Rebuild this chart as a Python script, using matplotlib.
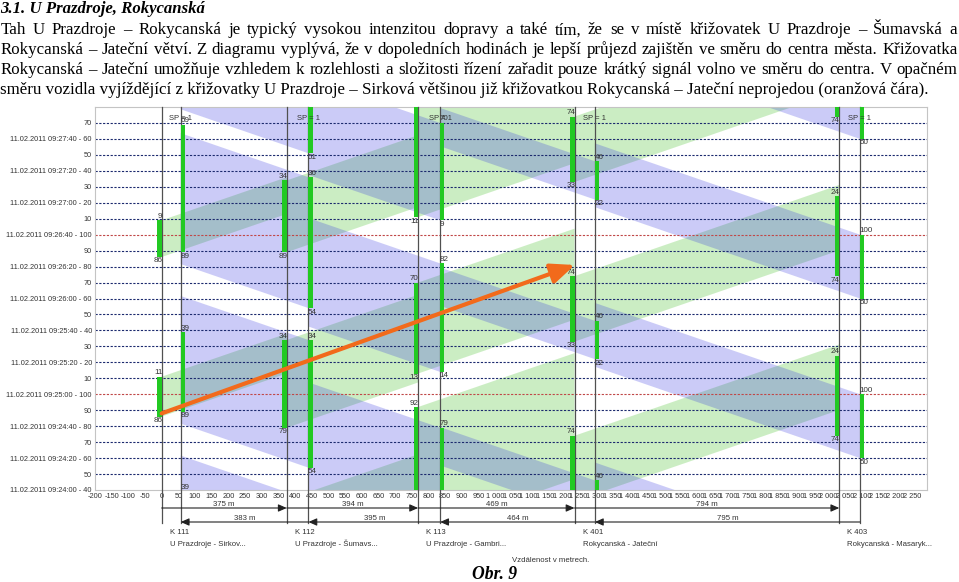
import matplotlib
matplotlib.use('Agg')
import matplotlib.pyplot as plt
from matplotlib.patches import Polygon, Rectangle
import matplotlib.transforms as mtransforms
from datetime import datetime, timedelta

plt.rcParams['font.family'] = ['Liberation Sans', 'DejaVu Sans']

W, H = 959, 582

# ------------------------------------------------------------------ data
title = "3.1. U Prazdroje, Rokycanská"
paragraph = [
    "Tah U Prazdroje – Rokycanská je typický vysokou intenzitou dopravy a také tím, že se v místě křižovatek U Prazdroje – Šumavská a",
    "Rokycanská – Jateční větví. Z diagramu vyplývá, že v dopoledních hodinách je lepší průjezd zajištěn ve směru do centra města. Křižovatka",
    "Rokycanská – Jateční umožňuje vzhledem k rozlehlosti a složitosti řízení zařadit pouze krátký signál volno ve směru do centra. V opačném",
    "směru vozidla vyjíždějící z křižovatky U Prazdroje – Sirková většinou již křižovatkou Rokycanská – Jateční neprojedou (oranžová čára).",
]
caption = "Obr. 9"
x_axis_note = "Vzdálenost v metrech."

intersections = ["K 111", "K 112", "K 113", "K 401", "K 403"]
inter_names = ["U Prazdroje - Sirkov...", "U Prazdroje - Šumavs...", "U Prazdroje - Gambri...",
               "Rokycanská - Jateční", "Rokycanská - Masaryk..."]
stop_east = [0, 375, 769, 1238, 2032]     # stop lines, direction to the right (m)
stop_west = [57, 440, 835, 1299, 2094]    # stop lines, direction to the left (m)
sp_label = "SP = 1"

speed_kmh = 50
date_str = "11.02.2011"
start_time = "09:24:00"
cycle_len = 100
cycle_offset = 40

# green intervals in seconds after 09:24:00
green_east = [
    [(46, 71), (146, 169)],
    [(-55, -6), (39, 94), (149, 194)],
    [(-27, 52), (73, 130), (171, 252)],
    [(-7, 34), (93, 134), (193, 234)],
    [(34, 84), (134, 184), (234, 284)],
]
labels_east = [
    [("86", "11"), ("86", "9")],
    [("", ""), ("79", "34"), ("89", "34")],
    [("", "92"), ("13", "70"), ("11", "")],
    [("", "74"), ("33", "74"), ("33", "74")],
    [("74", "24"), ("74", "24"), ("74", "")],
]
green_west = [
    [(-51, -1), (49, 99), (149, 229)],
    [(-86, -6), (14, 94), (114, 196), (211, 294)],
    [(-30, 39), (74, 142), (169, 230)],
    [(-18, 6), (82, 106), (182, 206)],
    [(-80, -40), (20, 60), (120, 160), (220, 260)],
]
labels_west = [
    [("", "39"), ("89", "39"), ("89", "69")],
    [("", ""), ("54", "34"), ("54", "36"), ("51", "")],
    [("", "79"), ("14", "82"), ("9", "70")],
    [("", "46"), ("22", "46"), ("22", "46")],
    [("", ""), ("50", "100"), ("50", "100"), ("50", "")],
]

# example vehicle trajectory (orange arrow): (distance m, time s)
trajectory = [(0, 48), (1239, 141)]

x_ticks = list(range(-200, 2300, 50))
y_ticks = list(range(0, 240, 10))

# ------------------------------------------------------------------ styles
BLUE = '#3333e0'
GREEN = '#33bb13'
BAND_ALPHA = 0.25
BAR = '#22c922'
GRID = '#1c2a6e'
RED = '#c04848'
LINE = '#505050'
TXT = '#333333'
ORANGE = '#f26a1b'

fig = plt.figure(figsize=(W / 100, H / 100), dpi=100)
renderer = fig.canvas.get_renderer()

def fy(py):
    return 1 - py / H

def fx(px):
    return px / W

def width_px(s, **kw):
    t = fig.text(0, 0, s, **kw)
    w = t.get_window_extent(renderer).width
    t.remove()
    return w

# ---- title
tkw = dict(family='Liberation Serif', weight='bold', style='italic')
fs_t = 12 * 205 / width_px(title, fontsize=12, **tkw)
fig.text(0, fy(13), title, fontsize=fs_t, va='baseline', ha='left', **tkw)

# ---- paragraph (justified)
pkw = dict(family='Liberation Serif')
fs_p = 12 * 922 / width_px(paragraph[-1], fontsize=12, **pkw)
baselines = [34.5, 54.3, 74.0, 93.8]
x_left, x_right = 0.5, 957.5
for li, (line, by) in enumerate(zip(paragraph, baselines)):
    words = line.split(' ')
    if li == len(paragraph) - 1:
        fig.text(fx(x_left), fy(by), line, fontsize=fs_p, va='baseline', ha='left', **pkw)
        continue
    widths = [width_px(w, fontsize=fs_p, **pkw) for w in words]
    gap = (x_right - x_left - sum(widths)) / (len(words) - 1)
    x = x_left
    for w, wd in zip(words, widths):
        fig.text(fx(x), fy(by), w, fontsize=fs_p, va='baseline', ha='left', **pkw)
        x += wd + gap

# ---- axes
ax_l, ax_r, ax_t, ax_b = 95, 927, 107, 490
ax = fig.add_axes([fx(ax_l), fy(ax_b), (ax_r - ax_l) / W, (ax_b - ax_t) / H])
ax.set_xlim(-200, 2295)
ax.set_ylim(0, 240)
for sp in ax.spines.values():
    sp.set_color('#c4c4c4')
    sp.set_linewidth(0.8)

v = speed_kmh / 3.6

# bands
for i in range(len(stop_east) - 1):
    x0, x1 = stop_east[i], stop_east[i + 1]
    dt = (x1 - x0) / v
    for t0, t1 in green_east[i]:
        ax.add_patch(Polygon([(x0, t0), (x1, t0 + dt), (x1, t1 + dt), (x0, t1)],
                             closed=True, facecolor=GREEN, alpha=BAND_ALPHA, lw=0, zorder=1))
for i in range(1, len(stop_west)):
    x0, x1 = stop_west[i], stop_west[i - 1]
    dt = (x0 - x1) / v
    for t0, t1 in green_west[i]:
        ax.add_patch(Polygon([(x0, t0), (x1, t0 + dt), (x1, t1 + dt), (x0, t1)],
                             closed=True, facecolor=BLUE, alpha=BAND_ALPHA, lw=0, zorder=1))

# horizontal grid lines
for t in range(10, 240, 10):
    c = RED if (t + cycle_offset) % cycle_len == 0 else GRID
    ax.axhline(t, color=c, lw=0.8, ls=(0, (2.0, 1.4)), zorder=2)

# ticks
t_start = datetime.strptime(start_time, "%H:%M:%S")
def ylab(t):
    c = (t + cycle_offset) % cycle_len
    c = cycle_len if c == 0 else c
    if t % 20 == 0:
        return f"{date_str} {(t_start + timedelta(seconds=t)).strftime('%H:%M:%S')} - {c}"
    return f"{c}"
ax.set_yticks(y_ticks)
ax.set_yticklabels([ylab(t) for t in y_ticks])
ax.set_xticks(x_ticks)
ax.set_xticklabels([f"{x:,}".replace(',', ' ') for x in x_ticks])
ax.tick_params(length=0, pad=2.2, labelsize=5.3, labelcolor=TXT)

trans = mtransforms.blended_transform_factory(ax.transData, ax.transAxes)
def ay(py):
    return (ax_b - py) / (ax_b - ax_t)

# stop lines (extend below the axis)
for x in stop_east + stop_west:
    ax.plot([x, x], [1, ay(523)], transform=trans, color=LINE, lw=0.9, clip_on=False, zorder=3)

# green bars + labels
bar_w = 13
lab_kw = dict(fontsize=5.8, color=TXT, zorder=6)
for i, x in enumerate(stop_east):
    for (t0, t1), (l0, l1) in zip(green_east[i], labels_east[i]):
        ax.add_patch(Rectangle((x - bar_w, t0), bar_w, t1 - t0, facecolor=BAR, lw=0, zorder=4))
        if l0:
            ax.text(x + 2, t0 - 0.3, l0, ha='right', va='top', **lab_kw)
        if l1:
            ax.text(x + 2, t1 + 0.3, l1, ha='right', va='bottom', **lab_kw)
for i, x in enumerate(stop_west):
    for (t0, t1), (l0, l1) in zip(green_west[i], labels_west[i]):
        ax.add_patch(Rectangle((x, t0), bar_w, t1 - t0, facecolor=BAR, lw=0, zorder=4))
        if l0:
            ax.text(x - 1, t0 - 0.3, l0, ha='left', va='top', **lab_kw)
        if l1:
            ax.text(x - 1, t1 + 0.3, l1, ha='left', va='bottom', **lab_kw)
    ax.text(x, 233, sp_label, ha='center', va='center', fontsize=5.5, color=TXT, zorder=6)

# orange trajectory arrow
(tx0, tt0), (tx1, tt1) = trajectory
ax.annotate('', xy=(tx1, tt1), xytext=(tx0, tt0),
            arrowprops=dict(arrowstyle='-|>,head_length=0.9,head_width=0.38', mutation_scale=16,
                            color=ORANGE, lw=3, shrinkA=0, shrinkB=0), zorder=7)

# distances below axis
row_e, row_w = 508, 522
akw = dict(arrowstyle='-|>,head_length=0.5,head_width=0.22', mutation_scale=10,
           color='#222222', lw=0.8, shrinkA=0, shrinkB=0)
for i in range(len(stop_east) - 1):
    a, b = stop_east[i], stop_east[i + 1]
    ax.annotate('', xy=(b, ay(row_e)), xytext=(a, ay(row_e)), xycoords=trans, textcoords=trans,
                arrowprops=akw, annotation_clip=False)
    ax.text((a + b) / 2, ay(row_e - 0.5), f"{b - a} m", transform=trans, ha='center', va='bottom',
            fontsize=5.6, color=TXT, clip_on=False)
for i in range(len(stop_west) - 1):
    a, b = stop_west[i], stop_west[i + 1]
    ax.annotate('', xy=(a, ay(row_w)), xytext=(b, ay(row_w)), xycoords=trans, textcoords=trans,
                arrowprops=akw, annotation_clip=False)
    ax.text((a + b) / 2, ay(row_w - 0.5), f"{b - a} m", transform=trans, ha='center', va='bottom',
            fontsize=5.6, color=TXT, clip_on=False)

# intersection names
for x, k, n in zip(stop_east, intersections, inter_names):
    ax.text(x + 24, ay(533), k, transform=trans, ha='left', va='center', fontsize=5.6,
            color=TXT, clip_on=False)
    ax.text(x + 24, ay(544), n, transform=trans, ha='left', va='center', fontsize=5.6,
            color=TXT, clip_on=False)

fig.text(fx(512), fy(560), x_axis_note, ha='left', va='center', fontsize=5.6, color=TXT)

# caption
fs_c = 12 * 45 / width_px(caption, fontsize=12, **tkw)
fig.text(fx(472), fy(579), caption, fontsize=fs_c, ha='left', va='baseline', **tkw)

fig.savefig('out.png', dpi=100)
